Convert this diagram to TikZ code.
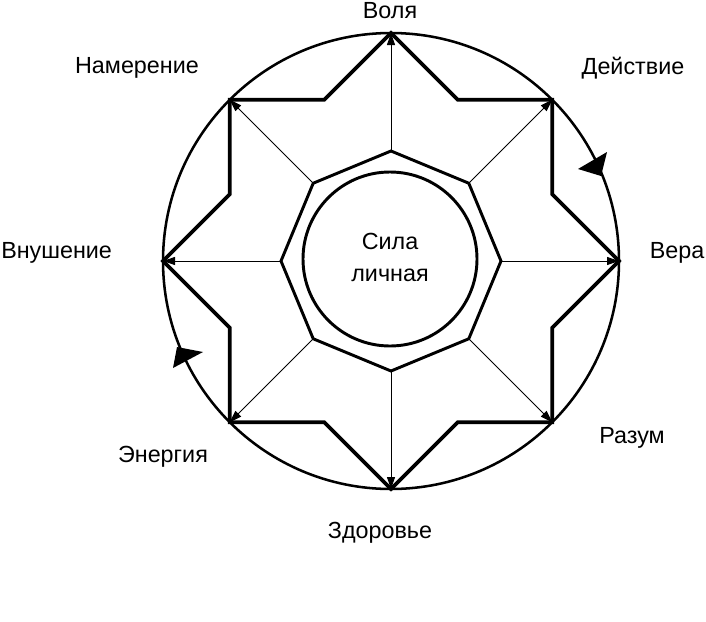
\documentclass[tikz,border=0pt]{standalone}
\usepackage{fontspec}
\setmainfont{Liberation Sans}
\usetikzlibrary{arrows.meta}
\begin{document}
\begin{tikzpicture}[x=0.75pt,y=-0.75pt,
  starline/.style={line width=2.7pt, line join=miter},
  ring/.style={line width=1.9pt},
  octa/.style={line width=2.2pt, line join=miter},
  conn/.style={line width=0.7pt, -{Triangle[length=9pt,width=6pt]}},
  lbl/.style={font=\fontsize{17.5}{20}\selectfont, inner sep=0pt},
  tip/.style={fill=black}
]
\useasboundingbox (0,0) rectangle (706,621);
\coordinate (c) at (391,261);
\foreach \i in {0,...,7}{
  \coordinate (s\i) at ([shift={(391,261)}]\i*45:228);
  \coordinate (m\i) at ([shift={(391,261)}]\i*45+22.5:174.5);
  \coordinate (o\i) at ([shift={(391,261)}]\i*45:110);
}
% outer circle
\draw[ring] (c) circle[radius=228];
% star
\draw[starline] (s0) -- (m0) -- (s1) -- (m1) -- (s2) -- (m2) -- (s3) -- (m3)
  -- (s4) -- (m4) -- (s5) -- (m5) -- (s6) -- (m6) -- (s7) -- (m7) -- cycle;
% octagon
\draw[octa] (o0) -- (o1) -- (o2) -- (o3) -- (o4) -- (o5) -- (o6) -- (o7) -- cycle;
% inner circle
\node[draw, circle, line width=2.2pt, minimum size=174*0.75pt, inner sep=0pt] (core) at (390,259) {};
\node[lbl, align=center] (coretext) at (390,257) {Сила\\[4pt]личная};
% connectors
\foreach \i in {0,...,7}{
  \draw[conn] (o\i) -- (s\i);
}
% direction marks on the circle
\fill[tip] (578,169) -- (607,152) -- (601,176) -- cycle;
\fill[tip] (177,347) -- (203,352) -- (173,368) -- cycle;
% labels
\node[lbl] (volya) at (390,11) {Воля};
\node[lbl] (nam) at (137,68) {Намерение};
\node[lbl] (dey) at (633,68) {Действие};
\node[lbl, anchor=west] (vnu) at (1,253) {Внушение};
\node[lbl] (vera) at (677,253) {Вера};
\node[lbl] (razum) at (632,438) {Разум};
\node[lbl] (energ) at (163,457) {Энергия};
\node[lbl] (zdor) at (380,533) {Здоровье};
\end{tikzpicture}
\end{document}
